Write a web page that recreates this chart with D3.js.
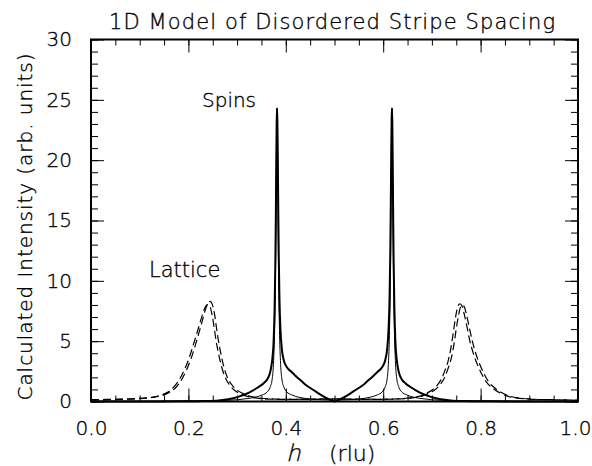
<!DOCTYPE html>
<html>
<head>
<meta charset="utf-8">
<script src="https://cdn.jsdelivr.net/npm/d3@7"></script>
<style>
    body { margin: 0; background: #fff; }
    svg text { font-family: "DejaVu Sans", sans-serif; font-weight: 200; fill: #000; stroke: #000; stroke-width: 0.35px; }
</style>
</head>
<body>
<div id="Chart"></div>
<script>
// Spin scattering, disordered stripes (thick solid line)
var thickH = [0.000, 0.102, 0.182, 0.232, 0.262, 0.282, 0.302, 0.317, 0.332, 0.344, 0.354, 0.362, 0.368, 0.372, 0.375, 0.377, 0.3785, 0.3795, 0.3805, 0.3813, 0.382,
    0.3827, 0.3835, 0.3845, 0.3855, 0.387, 0.389, 0.392, 0.396, 0.402, 0.412, 0.422, 0.432, 0.442, 0.457, 0.472, 0.485, 0.494, 0.500,
    0.506, 0.515, 0.528, 0.543, 0.558, 0.568, 0.578, 0.588, 0.598, 0.604, 0.608, 0.611, 0.613, 0.6145, 0.6155, 0.6165, 0.6173, 0.618,
    0.6187, 0.6195, 0.6205, 0.6215, 0.623, 0.625, 0.628, 0.632, 0.638, 0.646, 0.656, 0.668, 0.683, 0.698, 0.718, 0.738, 0.768, 0.818, 0.898, 1.000];
var thickI = [0, 0.005, 0.02, 0.045, 0.09, 0.18, 0.38, 0.6, 0.9, 1.2, 1.5, 1.85, 2.45, 3.4, 5.0, 7.7, 11.4, 15.2, 20.0, 23.2, 24.3,
    23.3, 20.5, 16.0, 12.2, 8.5, 6.0, 4.3, 3.4, 2.85, 2.45, 2.05, 1.7, 1.35, 0.95, 0.55, 0.25, 0.08, 0,
    0.08, 0.25, 0.55, 0.95, 1.35, 1.7, 2.05, 2.45, 2.85, 3.4, 4.3, 6.0, 8.5, 12.2, 16.0, 20.5, 23.3, 24.3,
    23.2, 20.0, 15.2, 11.4, 7.7, 5.0, 3.4, 2.45, 1.85, 1.5, 1.2, 0.9, 0.6, 0.38, 0.18, 0.09, 0.045, 0.02, 0.005, 0];

// Spin scattering, ordered reference (thin solid line)
var thinH = [0.000, 0.100, 0.182, 0.232, 0.262, 0.282, 0.302, 0.312, 0.337, 0.352, 0.362, 0.368, 0.372, 0.375, 0.377, 0.3785, 0.3795, 0.3805, 0.3813, 0.382,
    0.3827, 0.3835, 0.3845, 0.3855, 0.387, 0.389, 0.392, 0.396, 0.402, 0.412, 0.427, 0.452, 0.482, 0.500,
    0.518, 0.548, 0.573, 0.588, 0.598, 0.604, 0.608, 0.611, 0.613, 0.6145, 0.6155, 0.6165, 0.6173, 0.618,
    0.6187, 0.6195, 0.6205, 0.6215, 0.623, 0.625, 0.628, 0.632, 0.638, 0.648, 0.663, 0.688, 0.698, 0.718, 0.738, 0.768, 0.818, 0.900, 1.000];
var thinI = [0.01, 0.02, 0.04, 0.06, 0.08, 0.11, 0.15, 0.2, 0.35, 0.55, 0.8, 1.2, 1.85, 3.4, 5.9, 9.5, 13.5, 18.9, 22.9, 24.3,
    22.9, 18.9, 13.5, 9.5, 5.9, 3.4, 1.85, 1.2, 0.8, 0.55, 0.35, 0.2, 0.14, 0.12,
    0.14, 0.2, 0.35, 0.55, 0.8, 1.2, 1.85, 3.4, 5.9, 9.5, 13.5, 18.9, 22.9, 24.3,
    22.9, 18.9, 13.5, 9.5, 5.9, 3.4, 1.85, 1.2, 0.8, 0.55, 0.35, 0.2, 0.15, 0.11, 0.08, 0.06, 0.04, 0.02, 0.01];

// Lattice scattering, first dashed curve
var latticeAH = [0.000, 0.030, 0.060, 0.090, 0.115, 0.135, 0.150, 0.163, 0.175, 0.186, 0.196, 0.205, 0.213, 0.221, 0.228, 0.234, 0.239, 0.2445,
    0.249, 0.253, 0.257, 0.261, 0.266, 0.272, 0.279, 0.288, 0.298, 0.310, 0.325, 0.345, 0.370, 0.410, 0.450, 0.500,
    0.550, 0.590, 0.630, 0.655, 0.675, 0.690, 0.702, 0.712, 0.720, 0.727, 0.733, 0.738, 0.742, 0.746, 0.750, 0.7535, 0.7575,
    0.762, 0.766, 0.772, 0.778, 0.785, 0.793, 0.802, 0.812, 0.825, 0.840, 0.855, 0.872, 0.900, 0.940, 0.970, 1.000];
var latticeAI = [0.15, 0.17, 0.2, 0.24, 0.3, 0.4, 0.55, 0.8, 1.2, 1.8, 2.6, 3.5, 4.5, 5.6, 6.6, 7.5, 8.05, 8.3,
    8.05, 7.4, 6.3, 5.2, 4.1, 3.0, 2.1, 1.45, 1.0, 0.7, 0.45, 0.3, 0.22, 0.18, 0.2, 0.22,
    0.2, 0.18, 0.22, 0.3, 0.45, 0.7, 1.0, 1.4, 1.9, 2.6, 3.3, 4.2, 5.2, 6.3, 7.3, 7.9, 8.1,
    7.9, 7.3, 6.2, 5.0, 4.0, 3.1, 2.3, 1.6, 1.1, 0.7, 0.45, 0.3, 0.2, 0.15, 0.13, 0.12];

// Lattice scattering, second dashed curve
var latticeBH = [0.000, 0.030, 0.060, 0.090, 0.115, 0.132, 0.146, 0.159, 0.171, 0.182, 0.192, 0.201, 0.209, 0.217, 0.224, 0.230, 0.235, 0.2405,
    0.245, 0.249, 0.253, 0.257, 0.262, 0.268, 0.275, 0.284, 0.294, 0.306, 0.321, 0.341, 0.366, 0.400, 0.450, 0.500,
    0.550, 0.600, 0.635, 0.660, 0.680, 0.695, 0.707, 0.717, 0.725, 0.732, 0.738, 0.743, 0.747, 0.751, 0.755, 0.7585, 0.7625,
    0.767, 0.771, 0.777, 0.783, 0.790, 0.798, 0.807, 0.817, 0.830, 0.845, 0.860, 0.877, 0.905, 0.945, 0.975, 1.000];
var latticeBI = [0.12, 0.14, 0.17, 0.21, 0.28, 0.4, 0.55, 0.8, 1.25, 1.85, 2.65, 3.55, 4.55, 5.6, 6.55, 7.35, 7.85, 8.05,
    7.8, 7.1, 6.1, 5.0, 3.95, 2.9, 2.05, 1.4, 0.95, 0.65, 0.42, 0.28, 0.2, 0.17, 0.18, 0.2,
    0.18, 0.18, 0.22, 0.3, 0.45, 0.7, 1.0, 1.4, 1.9, 2.6, 3.3, 4.2, 5.2, 6.3, 7.2, 7.8, 8.0,
    7.8, 7.2, 6.1, 5.0, 4.0, 3.1, 2.3, 1.6, 1.1, 0.7, 0.45, 0.3, 0.2, 0.15, 0.12, 0.1];

var xMajorTicks = [0.0, 0.2, 0.4, 0.6, 0.8, 1.0];
var yMajorTicks = [0, 5, 10, 15, 20, 25, 30];

var margin = {top: 39.5, right: 14, bottom: 64.5, left: 91};
var width = 592 - margin.left - margin.right;
var height = 466 - margin.top - margin.bottom;

function drawChart() {
    document.getElementById("Chart").innerHTML = "";

    var xScale = d3.scaleLinear().domain([0, 1]).range([0, width]);
    var yScale = d3.scaleLinear().domain([0, 30]).range([height, 0]);

    var svg = d3.select("#Chart")
        .append("svg")
        .attr("width", 592)
        .attr("height", 466);

    var chart = svg.append("g")
        .attr("transform", "translate(" + margin.left + "," + margin.top + ")");

    // Minor ticks on all four sides, pointing inwards
    var xMinor = d3.range(0, 21).map(function (d) { return d * 0.05; });
    var yMinor = d3.range(0, 31);

    chart.append("g").attr("class", "axis")
        .attr("transform", "translate(0," + height + ")")
        .call(d3.axisBottom(xScale).tickValues(xMinor).tickSize(-6).tickSizeOuter(0).tickFormat(""));
    chart.append("g").attr("class", "axis")
        .call(d3.axisTop(xScale).tickValues(xMinor).tickSize(-6).tickSizeOuter(0).tickFormat(""));
    chart.append("g").attr("class", "axis")
        .call(d3.axisLeft(yScale).tickValues(yMinor).tickSize(-7).tickSizeOuter(0).tickFormat(""));
    chart.append("g").attr("class", "axis")
        .attr("transform", "translate(" + width + ",0)")
        .call(d3.axisRight(yScale).tickValues(yMinor).tickSize(-7).tickSizeOuter(0).tickFormat(""));

    // Major ticks with labels
    chart.append("g").attr("class", "axis major")
        .attr("transform", "translate(0," + height + ")")
        .call(d3.axisBottom(xScale).tickValues(xMajorTicks).tickSize(-13).tickSizeOuter(0)
            .tickPadding(19).tickFormat(d3.format(".1f")));
    chart.append("g").attr("class", "axis")
        .call(d3.axisTop(xScale).tickValues(xMajorTicks).tickSize(-13).tickSizeOuter(0).tickFormat(""));
    chart.append("g").attr("class", "axis major")
        .call(d3.axisLeft(yScale).tickValues(yMajorTicks).tickSize(-13).tickSizeOuter(0)
            .tickPadding(19).tickFormat(d3.format("d")));
    chart.append("g").attr("class", "axis")
        .attr("transform", "translate(" + width + ",0)")
        .call(d3.axisRight(yScale).tickValues(yMajorTicks).tickSize(-13).tickSizeOuter(0).tickFormat(""));

    chart.selectAll(".axis .domain").remove();
    chart.selectAll(".axis line").attr("stroke", "#000").attr("stroke-width", 1);
    chart.selectAll(".axis text").attr("font-size", "20px").attr("font-family", null);
    // Hershey style labels sit a touch left of their ticks
    chart.selectAll(".axis.major text").filter(function (d) { return d === 1; }).attr("dx", "-3");

    // Curves
    var line = d3.line()
        .x(function (d) { return xScale(d.h); })
        .y(function (d) { return yScale(d.v); })
        .curve(d3.curveMonotoneX);

    function toPoints(hs, vs) {
        return hs.map(function (h, i) { return {h: h, v: vs[i]}; });
    }

    var plot = chart.append("g");

    plot.append("path")
        .datum(toPoints(latticeBH, latticeBI))
        .attr("d", line)
        .attr("fill", "none")
        .attr("stroke", "#000")
        .attr("stroke-width", 1.2)
        .attr("stroke-dasharray", "8,4");
    plot.append("path")
        .datum(toPoints(latticeAH, latticeAI))
        .attr("d", line)
        .attr("fill", "none")
        .attr("stroke", "#000")
        .attr("stroke-width", 1.2)
        .attr("stroke-dasharray", "8,4");
    plot.append("path")
        .datum(toPoints(thinH, thinI))
        .attr("d", line)
        .attr("fill", "none")
        .attr("stroke", "#000")
        .attr("stroke-width", 1);
    plot.append("path")
        .datum(toPoints(thickH, thickI))
        .attr("d", line)
        .attr("fill", "none")
        .attr("stroke", "#000")
        .attr("stroke-width", 2);

    // Frame
    chart.append("rect")
        .attr("x", 0).attr("y", 0)
        .attr("width", width).attr("height", height)
        .attr("fill", "none")
        .attr("stroke", "#000")
        .attr("stroke-width", 2);

    // Title and axis labels
    svg.append("text")
        .attr("x", 332).attr("y", 29)
        .attr("text-anchor", "middle")
        .attr("textLength", 446)
        .attr("lengthAdjust", "spacing")
        .style("font-size", "21px")
        .text("1D Model of Disordered Stripe Spacing");

    svg.append("text")
        .attr("transform", "translate(32,227)rotate(-90)")
        .attr("text-anchor", "middle")
        .attr("textLength", 347)
        .attr("lengthAdjust", "spacing")
        .style("font-size", "20px")
        .text("Calculated Intensity  (arb. units)");

    // x label: slanted h, then (rlu)
    svg.append("text")
        .attr("transform", "translate(286,461)skewX(-14)")
        .style("font-size", "23px")
        .text("h");
    svg.append("text")
        .attr("x", 329).attr("y", 461)
        .style("font-size", "22px")
        .text("(rlu)");

    // Curve annotations
    svg.append("text")
        .attr("x", 202).attr("y", 107)
        .style("font-size", "20px")
        .text("Spins");
    svg.append("text")
        .attr("x", 149).attr("y", 277)
        .style("font-size", "21px")
        .text("Lattice");
}

drawChart();
</script>
</body>
</html>
